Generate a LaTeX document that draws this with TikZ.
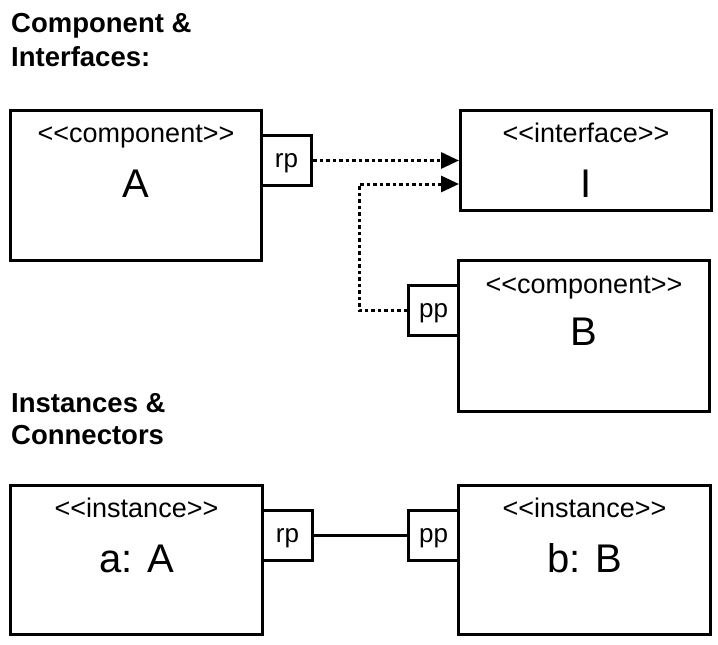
\documentclass[tikz,border=0pt]{standalone}
\usepackage{fontspec}
\setmainfont{Liberation Sans}[Ligatures=TeXOff]
\usetikzlibrary{arrows.meta}
\tikzset{
  box/.style={draw, line width=3pt, inner sep=0pt, anchor=north west, fill=white},
  portbox/.style={box, minimum width=50pt, minimum height=50pt, text height=13pt, text depth=0pt, font=\fontsize{26}{30}\selectfont},
  stereo/.style={anchor=base, inner sep=0pt, font=\fontsize{27}{30}\selectfont},
  bigname/.style={anchor=base, inner sep=0pt, font=\fontsize{40}{48}\selectfont},
  heading/.style={anchor=base west, inner sep=0pt, font=\bfseries\fontsize{27.5}{32}\selectfont},
  dep/.style={line width=3pt, dash pattern=on 3.5pt off 3pt, -{Triangle[length=18pt,width=16pt]}},
  conn/.style={line width=3pt}
}
\begin{document}
\begin{tikzpicture}[x=1pt,y=-1pt]
\useasboundingbox (0,0) rectangle (718,645);
% headings
\node[heading] (h1) at (11,32) {Component \&};
\node[heading] (h2) at (11,66) {Interfaces:};
\node[heading] (h3) at (11,412) {Instances \&};
\node[heading] (h4) at (11,444) {Connectors};
% top section
\node[box, minimum width=251pt, minimum height=150pt] (A) at (9,109) {};
\node[stereo] (Ast) at ([yshift=-33pt]A.north) {<<component>>};
\node[bigname] (An) at ([yshift=-88pt]A.north) {A};
\node[portbox] (rp) at (260,134) {rp};
\node[box, minimum width=251pt, minimum height=100pt] (I) at (459,109) {};
\node[stereo] (Ist) at ([yshift=-33pt]I.north) {<<interface>>};
\node[bigname] (In) at ([yshift=-88pt]I.north) {I};
\node[box, minimum width=251pt, minimum height=151pt] (B) at (457,259) {};
\node[stereo] (Bst) at ([yshift=-34pt]B.north) {<<component>>};
\node[bigname] (Bn) at ([yshift=-86pt]B.north) {B};
\node[portbox] (pp) at (407,284) {pp};
\coordinate (k) at (359,184);
\draw[dep] (rp.east) -- (rp.east -| I.west);
\draw[dep] (pp.west) -| (k) -- (k -| I.west);
% bottom section
\node[box, minimum width=252pt, minimum height=149pt] (a) at (9,484) {};
\node[stereo] (ast) at ([yshift=-33pt]a.north) {<<instance>>};
\node[bigname] (an) at ([yshift=-88pt]a.north) {a: A};
\node[portbox] (rp2) at (261,509) {rp};
\node[box, minimum width=252pt, minimum height=149pt] (b) at (457,484) {};
\node[stereo] (bst) at ([yshift=-33pt]b.north) {<<instance>>};
\node[bigname] (bn) at ([yshift=-88pt]b.north) {b: B};
\node[portbox] (pp2) at (407,509) {pp};
\draw[conn] (rp2.east) -- (pp2.west);
\end{tikzpicture}
\end{document}
